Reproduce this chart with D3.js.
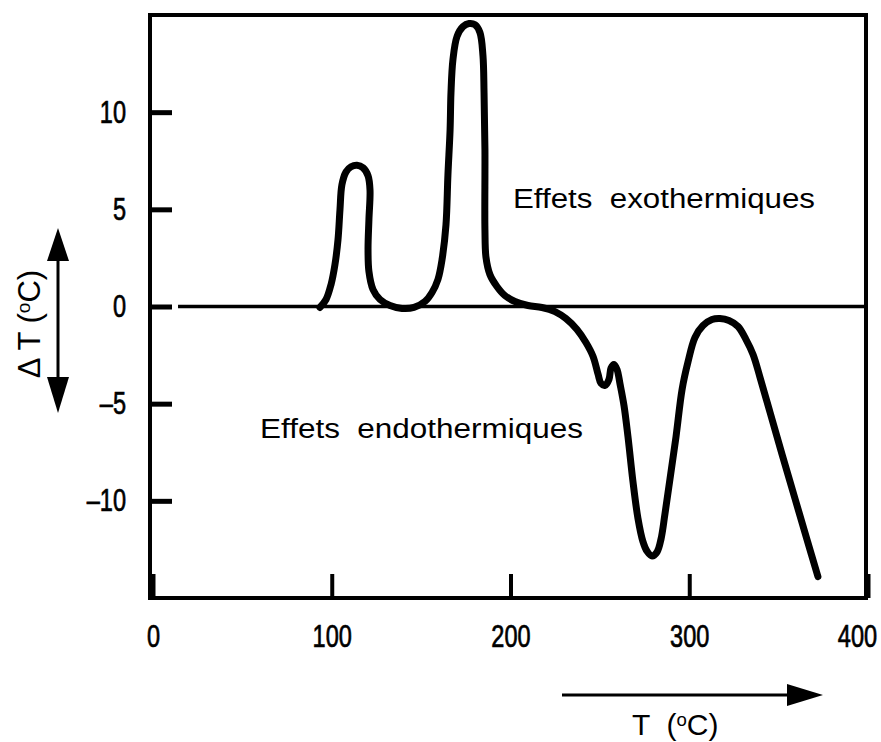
<!DOCTYPE html>
<html>
<head>
<meta charset="utf-8">
<script src="https://cdn.jsdelivr.net/npm/d3@7"></script>
<style>
  body { margin: 0; background: #fff; }
  svg { display: block; }
</style>
</head>
<body>
<div id="chart"></div>
<script>
// DTA curve
const tempC = [93.4, 96.8, 99.6, 101.8, 103.5, 104.6, 105.7, 108.0, 110.8, 114.1, 117.5, 120.3, 121.4, 120.8, 120.3, 120.8, 123.1, 127.0, 132.6, 139.3, 146.0, 152.2, 156.1, 159.4, 161.7, 163.9, 165.0, 166.2, 166.7, 167.8, 170.1, 173.4, 176.8, 180.1, 182.9, 184.6, 185.2, 185.7, 185.7, 186.3, 188.5, 192.4, 196.9, 202.5, 209.8, 217.6, 224.9, 231.0, 237.2, 242.2, 246.2, 249.0, 250.6, 252.9, 255.1, 256.2, 257.9, 259.6, 261.3, 263.5, 265.7, 268.5, 271.3, 274.1, 276.4, 279.2, 282.0, 284.2, 286.4, 289.2, 292.6, 296.0, 299.3, 303.2, 307.7, 312.7, 317.2, 322.2, 327.3, 331.7, 335.7, 339.6, 345.2, 351.9, 359.2, 365.9, 372.0];
const deltaT = [-0.05, 0.36, 1.13, 2.16, 3.44, 4.98, 6.27, 6.93, 7.19, 7.27, 7.14, 6.73, 6.0, 4.47, 2.93, 1.8, 0.87, 0.36, 0.05, -0.1, -0.05, 0.26, 0.72, 1.39, 2.41, 4.2, 6.78, 9.09, 11.0, 12.7, 13.9, 14.4, 14.56, 14.5, 14.1, 12.9, 11.0, 8.06, 3.95, 2.52, 1.64, 1.03, 0.56, 0.26, 0.05, -0.05, -0.26, -0.62, -1.18, -1.85, -2.57, -3.49, -3.95, -4.06, -3.75, -3.18, -2.98, -3.24, -4.0, -5.1, -6.68, -9.0, -10.9, -12.1, -12.6, -12.84, -12.63, -11.97, -10.68, -8.89, -6.7, -4.26, -2.85, -1.59, -0.98, -0.67, -0.62, -0.72, -1.03, -1.69, -2.47, -3.65, -5.45, -7.6, -9.9, -12.0, -13.9];

const xTicks = [0, 100, 200, 300, 400];
const yTicks = [-10, -5, 0, 5, 10];
const labelExo = "Effets  exothermiques";
const labelEndo = "Effets  endothermiques";

const W = 881, H = 742;
const svg = d3.select("#chart").append("svg").attr("width", W).attr("height", H);

const x = d3.scaleLinear().domain([0, 400]).range([153, 868]);
const y = d3.scaleLinear().domain([-15, 15]).range([598, 15]);

const tickFont = "'Liberation Sans', Arial, sans-serif";
const fmt = d => d < 0 ? "\u2013" + Math.abs(d) : String(d);
const squeeze = 0.76; // tick numbers are condensed in the original

function styleTicks(sel) {
  sel.attr("font-family", tickFont).attr("font-size", 31)
    .attr("fill", "#000").attr("stroke", "#000").attr("stroke-width", 0.7);
}

// frame
svg.append("rect")
  .attr("x", 150).attr("y", 15)
  .attr("width", 716).attr("height", 583)
  .attr("fill", "none").attr("stroke", "#000").attr("stroke-width", 4);

// y axis (ticks pointing in)
const gy = svg.append("g").attr("transform", "translate(150,0)")
  .call(d3.axisLeft(y).tickValues(yTicks).tickSize(-22).tickPadding(24).tickFormat(fmt));
gy.select(".domain").remove();
gy.selectAll(".tick line").attr("stroke-width", 5);
styleTicks(gy.selectAll(".tick text"));
gy.selectAll(".tick text")
  .attr("x", -24 / squeeze)
  .attr("transform", `scale(${squeeze},1)`);

// x axis
const gx = svg.append("g").attr("transform", "translate(0,598)")
  .call(d3.axisBottom(x).tickValues(xTicks).tickSize(-24).tickPadding(27).tickFormat(fmt));
gx.select(".domain").remove();
gx.selectAll(".tick line").attr("stroke-width", 4);
styleTicks(gx.selectAll(".tick text"));
gx.selectAll(".tick text")
  .attr("x", d => d === 400 ? -11 / squeeze : 0)
  .attr("transform", `scale(${squeeze},1)`);

// zero line
svg.append("line")
  .attr("x1", x(14)).attr("x2", x(400))
  .attr("y1", y(0)).attr("y2", y(0))
  .attr("stroke", "#000").attr("stroke-width", 3.5);

// curve
const pts = tempC.map((t, i) => [t, deltaT[i]]);
svg.append("path")
  .datum(pts)
  .attr("fill", "none").attr("stroke", "#000").attr("stroke-width", 7)
  .attr("stroke-linejoin", "round").attr("stroke-linecap", "round")
  .attr("d", d3.line().x(d => x(d[0])).y(d => y(d[1])).curve(d3.curveCatmullRom.alpha(0.5)));

// annotations
const textFont = "'Liberation Sans', Arial, sans-serif";
svg.append("text").attr("x", 513).attr("y", 208)
  .attr("font-family", textFont).attr("font-size", 27)
  .attr("textLength", 302).attr("lengthAdjust", "spacingAndGlyphs")
  .style("white-space", "pre")
  .text(labelExo);
svg.append("text").attr("x", 260).attr("y", 438)
  .attr("font-family", textFont).attr("font-size", 27)
  .attr("textLength", 323).attr("lengthAdjust", "spacingAndGlyphs")
  .style("white-space", "pre")
  .text(labelEndo);

// axis titles with superscript o
function unitTitle(sel, prefix) {
  sel.append("tspan").text(prefix + " (");
  sel.append("tspan").attr("font-size", "0.62em").attr("dy", "-0.5em").text("o");
  sel.append("tspan").attr("dy", "0.31em").text("C)");
}
const yt = svg.append("text")
  .attr("transform", "translate(40,324) rotate(-90)")
  .attr("text-anchor", "middle")
  .attr("font-family", textFont).attr("font-size", 31)
  .style("white-space", "pre");
unitTitle(yt, "\u0394 T");

const xt = svg.append("text")
  .attr("x", 632).attr("y", 735)
  .attr("font-family", textFont).attr("font-size", 30)
  .style("white-space", "pre");
unitTitle(xt, "T ");

// arrows
const arrow = svg.append("g").attr("fill", "#000").attr("stroke", "#000");
arrow.append("line").attr("x1", 58).attr("x2", 58).attr("y1", 250).attr("y2", 390).attr("stroke-width", 3);
arrow.append("path").attr("stroke", "none").attr("d", "M58,228 L69,261 L47,261 Z");
arrow.append("path").attr("stroke", "none").attr("d", "M58,413 L69,377 L47,377 Z");
arrow.append("line").attr("x1", 562).attr("x2", 795).attr("y1", 695).attr("y2", 695).attr("stroke-width", 3);
arrow.append("path").attr("stroke", "none").attr("d", "M823,695 L787,684 L787,706 Z");
</script>
</body>
</html>
